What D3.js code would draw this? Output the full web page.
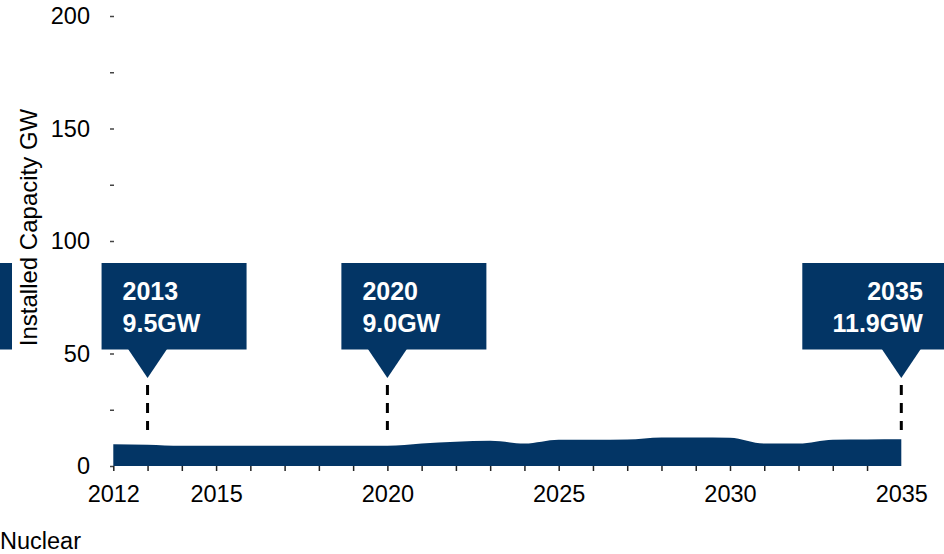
<!DOCTYPE html>
<html>
<head>
<meta charset="utf-8">
<script src="https://cdn.jsdelivr.net/npm/d3@7"></script>
<style>
  html, body { margin: 0; padding: 0; background: #fff; }
  svg { display: block; font-family: "Liberation Sans", Arial, Helvetica, sans-serif; }
</style>
</head>
<body>
<svg id="chart" width="944" height="554"></svg>
<script>
// Installed nuclear capacity (GW), one value per year
const years = [2012, 2013, 2014, 2015, 2016, 2017, 2018, 2019, 2020, 2021, 2022, 2023,
               2024, 2025, 2026, 2027, 2028, 2029, 2030, 2031, 2032, 2033, 2034, 2035];
const capacity = [9.7, 9.5, 9.0, 9.0, 9.0, 9.0, 9.0, 9.0, 9.0, 10.0, 10.8, 11.2,
                  10.0, 11.7, 11.7, 11.8, 12.7, 12.7, 12.6, 10.0, 10.0, 11.7, 11.8, 11.9];
const calloutYears = [2013, 2020, 2035];
const xLabelYears = [2012, 2015, 2020, 2025, 2030, 2035];
const yTickValues = [0, 25, 50, 75, 100, 125, 150, 175, 200];
const yLabelValues = [0, 50, 100, 150, 200];
const yTitle = "Installed Capacity GW";
const seriesName = "Nuclear";

const W = 944, H = 554;
const navy = "#033565";
const svg = d3.select("#chart");

const x = d3.scaleLinear().domain([2012, 2035]).range([113.3, 901.3]);
const y = d3.scaleLinear().domain([0, 200]).range([466, 16]);

const rows = years.map((yr, i) => ({ year: yr, value: capacity[i] }));

// y axis: short dashes every 25, labels every 50
const yAxis = svg.append("g")
  .attr("transform", "translate(114,0)")
  .call(d3.axisLeft(y)
    .tickValues(yTickValues)
    .tickSizeInner(4).tickSizeOuter(0).tickPadding(20)
    .tickFormat(d => yLabelValues.includes(d) ? d : ""));
yAxis.select(".domain").remove();
yAxis.selectAll(".tick line").attr("stroke", "#444").attr("stroke-width", 1.5);
yAxis.selectAll(".tick text")
  .attr("fill", "#000").attr("font-size", 23.5)
  .attr("font-family", "Liberation Sans, Arial, sans-serif");

// area
const area = d3.area()
  .x(d => x(d.year))
  .y0(y(0))
  .y1(d => y(d.value))
  .curve(d3.curveMonotoneX);

svg.append("path")
  .datum(rows)
  .attr("d", area)
  .attr("fill", navy);

// x axis: yearly ticks below the area
const xTicks = svg.append("g")
  .attr("transform", `translate(0,${y(0)})`)
  .call(d3.axisBottom(x)
    .tickValues(years.slice(0, -1))
    .tickSizeInner(5).tickSizeOuter(0)
    .tickFormat(""));
xTicks.select(".domain").remove();
xTicks.selectAll(".tick line").attr("stroke", "#222").attr("stroke-width", 1.5);

// x axis labels
const xLabels = svg.append("g")
  .attr("transform", "translate(0,502)")
  .call(d3.axisBottom(x)
    .tickValues(xLabelYears)
    .tickSize(0)
    .tickFormat(d3.format("d")));
xLabels.select(".domain").remove();
xLabels.selectAll(".tick text")
  .attr("y", 0).attr("dy", null)
  .attr("fill", "#000").attr("font-size", 23.5)
  .attr("font-family", "Liberation Sans, Arial, sans-serif");

// y axis title
svg.append("text")
  .attr("transform", "translate(37,227.5) rotate(-90)")
  .attr("text-anchor", "middle")
  .attr("font-size", 24)
  .attr("fill", "#000")
  .text(yTitle);

// partially visible box at the left edge
svg.append("rect")
  .attr("x", -133).attr("y", 263)
  .attr("width", 145).attr("height", 86.5)
  .attr("fill", navy);

// callouts
const boxW = 145, boxH = 86.5, boxTop = 263, tipY = 378, notchHalf = 19.5, tipInset = 46;
calloutYears.forEach(yr => {
  const v = capacity[years.indexOf(yr)];
  const tx = x(yr);
  const rightAligned = tx + boxW - tipInset > W;
  const left = rightAligned ? tx + tipInset - boxW : tx - tipInset;
  const g = svg.append("g");
  g.append("rect")
    .attr("x", left).attr("y", boxTop)
    .attr("width", boxW).attr("height", boxH)
    .attr("fill", navy);
  g.append("path")
    .attr("d", `M${tx - notchHalf},${boxTop + boxH - 0.5}L${tx + notchHalf},${boxTop + boxH - 0.5}L${tx},${tipY}Z`)
    .attr("fill", navy);
  g.append("line")
    .attr("x1", tx).attr("x2", tx)
    .attr("y1", 385).attr("y2", 430)
    .attr("stroke", "#000").attr("stroke-width", 3)
    .attr("stroke-dasharray", "10,8");
  const textX = rightAligned ? tx + 21.5 : tx - 25;
  const t = g.append("text")
    .attr("fill", "#fff")
    .attr("font-weight", "bold")
    .attr("font-size", 25)
    .attr("text-anchor", rightAligned ? "end" : "start");
  t.append("tspan").attr("x", textX).attr("y", 299.5).text(yr);
  t.append("tspan").attr("x", textX).attr("y", 331.5).text(v.toFixed(1) + "GW");
});

// series name
svg.append("text")
  .attr("x", 0).attr("y", 549)
  .attr("font-size", 23.5)
  .attr("fill", "#000")
  .text(seriesName);
</script>
</body>
</html>
